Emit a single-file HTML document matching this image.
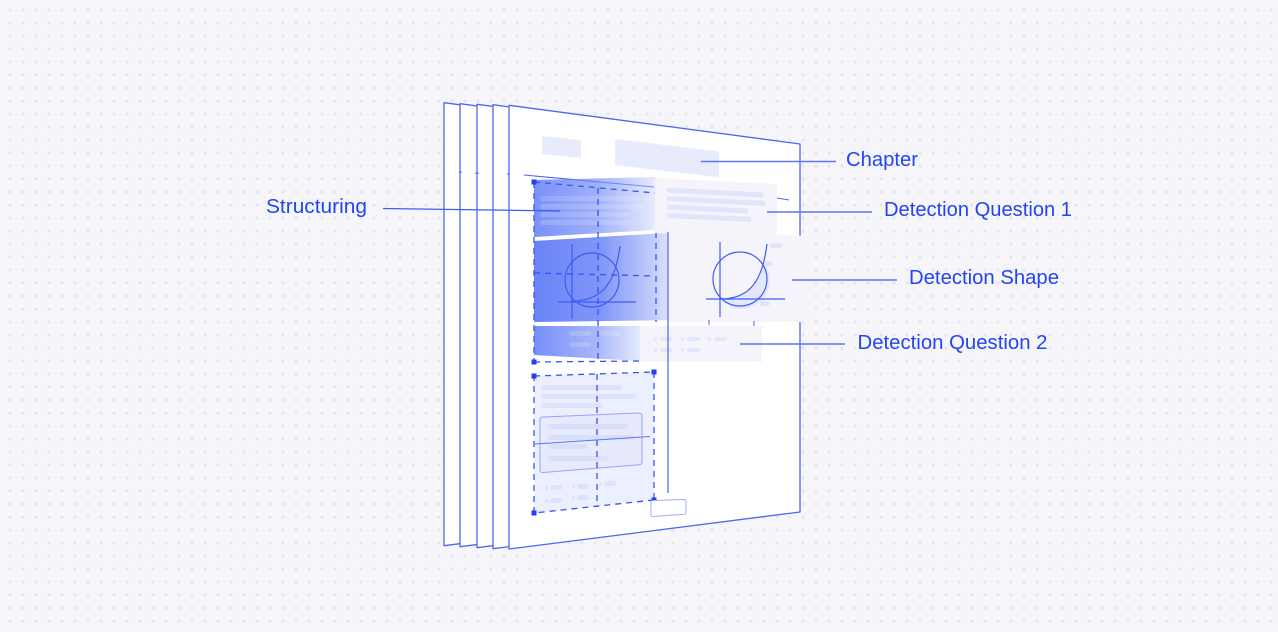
<!DOCTYPE html>
<html><head><meta charset="utf-8"><style>
html,body{margin:0;padding:0;background:#f6f6fa;}
svg{display:block;}
</style></head><body>
<svg width="1278" height="632" viewBox="0 0 1278 632" xmlns="http://www.w3.org/2000/svg">
<defs>
<pattern id="dots" x="0" y="0" width="13" height="13" patternUnits="userSpaceOnUse">
<circle cx="10" cy="10" r="1.6" fill="#e5e5ee"/>
</pattern>
<linearGradient id="gA" gradientUnits="userSpaceOnUse" x1="534" y1="0" x2="660" y2="0">
<stop offset="0" stop-color="#7a91f8"/><stop offset="0.5" stop-color="#9fb0fa"/><stop offset="1" stop-color="#eef1fe"/>
</linearGradient>
<linearGradient id="gB" gradientUnits="userSpaceOnUse" x1="534" y1="0" x2="682" y2="0">
<stop offset="0" stop-color="#6a84f7"/><stop offset="0.45" stop-color="#7f95f8"/><stop offset="0.8" stop-color="#c2ccfb"/><stop offset="1" stop-color="#f3f4fd"/>
</linearGradient>
<linearGradient id="gC" gradientUnits="userSpaceOnUse" x1="534" y1="0" x2="642" y2="0">
<stop offset="0" stop-color="#7690f8"/><stop offset="0.6" stop-color="#a9b8fa"/><stop offset="1" stop-color="#e8ecfd"/>
</linearGradient>
</defs>
<rect width="1278" height="632" fill="#f6f6fa"/>
<rect width="1278" height="632" fill="url(#dots)"/>

<!-- back pages -->
<g fill="#ffffff" stroke="#4c66f5" stroke-width="1.3" stroke-linejoin="round">
<polygon points="444,102.7 735,141.7 735,508.7 444,545.7"/>
<polygon points="460,103.7 751,142.7 751,509.7 460,546.7"/>
<polygon points="477,104.3 768,143.3 768,510.3 477,547.7"/>
<polygon points="493,104.7 784,143.7 784,511 493,548.7"/>
<polygon points="509,105.3 800,144 800,512 509,549"/>
</g>
<!-- ticks on back pages -->
<g stroke="#4c66f5" stroke-width="1">
<line x1="459" y1="172" x2="462" y2="172.3"/>
<line x1="475" y1="173" x2="479" y2="173.3"/>
<line x1="507" y1="174" x2="510" y2="174.2"/>
</g>

<!-- header rects -->
<polygon points="542,136 581,140 581,158 542,154" fill="#e8ebfc"/>
<polygon points="615,139 719,151.5 719,177.3 615,165" fill="#e8ebfc"/>

<!-- Chapter leader -->
<line x1="701" y1="161.5" x2="836" y2="161.5" stroke="#5c74f6" stroke-width="1.4"/>

<!-- header line -->
<line x1="524" y1="175" x2="654" y2="187" stroke="#4c66f5" stroke-width="1.1"/>
<line x1="777" y1="198" x2="789" y2="200" stroke="#4c66f5" stroke-width="1.1"/>

<!-- Structuring bands -->
<polygon points="534,180 656,177 656,230 534,237" fill="url(#gA)"/>
<polygon points="534,241 682,232 682,320 534,322" fill="url(#gB)"/>
<polygon points="534,326 641,326 641,361 534,355" fill="url(#gC)"/>
<!-- faint bars in bands -->
<g fill="#ffffff" opacity="0.16">
<rect x="540" y="196" width="100" height="5" rx="2.5"/>
<rect x="540" y="204" width="104" height="5" rx="2.5"/>
<rect x="540" y="212" width="90" height="5" rx="2.5"/>
<rect x="540" y="220" width="94" height="5" rx="2.5"/>
<rect x="569" y="331" width="22" height="5" rx="2.5"/>
<rect x="599" y="331" width="22" height="5" rx="2.5"/>
<rect x="569" y="342" width="22" height="5" rx="2.5"/>
</g>
<line x1="534" y1="176" x2="654" y2="187" stroke="#4c66f5" stroke-width="1" opacity="0.7"/>

<!-- circle in band B -->
<g stroke="#3f5cf4" stroke-width="1.2" fill="none">
<circle cx="592" cy="280" r="27"/>
<line x1="558" y1="302" x2="636" y2="302"/>
<line x1="572" y1="244" x2="572" y2="319"/>
<path d="M572,301 C600,301 615,286 620,246"/>
</g>

<!-- dashed structuring outline -->
<g stroke="#3655f4" stroke-width="1.3" stroke-dasharray="6 5" fill="none">
<line x1="534" y1="182" x2="534" y2="362"/>
<line x1="534" y1="182" x2="655" y2="193"/>
<line x1="598" y1="188" x2="598" y2="361"/>
<line x1="656" y1="232" x2="656" y2="322"/>
<line x1="534" y1="273" x2="655" y2="276"/>
<line x1="534" y1="362" x2="640" y2="361"/>
</g>
<g fill="#1f3ff5">
<rect x="531.5" y="179.5" width="5" height="5"/>
<rect x="531.5" y="359.5" width="5" height="5"/>
</g>

<!-- Q1 card -->
<polygon points="655,178 777,184 777,236 655,233" fill="#f4f4fa"/>
<g fill="#e0e5fc">
<polygon points="667,187.5 763,192.5 763,197.5 667,192.5"/>
<polygon points="667,196 765,201 765,206 667,201"/>
<polygon points="667,204.5 748,208.5 748,213.5 667,209.5"/>
<polygon points="667,213 751,217 751,222 667,218"/>
</g>
<line x1="767" y1="212" x2="872" y2="212" stroke="#5c74f6" stroke-width="1.4"/>

<!-- shape card -->
<polygon points="668,232 812,236 812,322 668,322" fill="#f4f4fa"/>
<path d="M720,299 C745,299 759,285 763,262 A28,28 0 0 1 720,299 Z" fill="#e4e8fc"/>
<g stroke="#3f5cf4" stroke-width="1.2" fill="none">
<circle cx="740" cy="279" r="27"/>
<line x1="706" y1="299" x2="785" y2="299"/>
<line x1="720" y1="242" x2="720" y2="317"/>
<path d="M720,299 C748,299 762,284 767,244"/>
</g>
<g fill="#e0e5fc">
<rect x="769" y="243" width="14" height="5" rx="2.5"/>
<rect x="764" y="261" width="9" height="5" rx="2.5"/>
<rect x="760" y="301" width="10" height="5" rx="2.5"/>
</g>
<line x1="792" y1="280" x2="897" y2="280" stroke="#5c74f6" stroke-width="1.4"/>

<!-- Q2 card -->
<rect x="640" y="326" width="122" height="36" fill="#f4f4fa"/>
<g fill="#e3e7fc">
<rect x="654" y="337" width="3" height="4" rx="1.5"/><rect x="660" y="337" width="12" height="4" rx="2"/>
<rect x="681" y="337" width="3" height="4" rx="1.5"/><rect x="687" y="337" width="13" height="4" rx="2"/>
<rect x="708" y="337" width="3" height="4" rx="1.5"/><rect x="714" y="337" width="13" height="4" rx="2"/>
<rect x="654" y="348" width="3" height="4" rx="1.5"/><rect x="660" y="348" width="12" height="4" rx="2"/>
<rect x="681" y="348" width="3" height="4" rx="1.5"/><rect x="687" y="348" width="13" height="4" rx="2"/>
</g>
<line x1="740" y1="344" x2="845" y2="344" stroke="#5c74f6" stroke-width="1.4"/>

<!-- vertical solid line -->
<line x1="668" y1="232" x2="668" y2="493" stroke="#4c66f5" stroke-width="1.2"/>
<line x1="709" y1="320" x2="709" y2="325" stroke="#4c66f5" stroke-width="1"/>
<line x1="754" y1="321" x2="754" y2="326" stroke="#4c66f5" stroke-width="1"/>

<!-- lower block -->
<polygon points="534,376 654,372 654,500 534,513" fill="#eceffd"/>
<g fill="#dde3fc">
<rect x="541" y="385" width="81" height="5" rx="2.5"/>
<rect x="541" y="394" width="95" height="5" rx="2.5"/>
<rect x="541" y="403" width="62" height="5" rx="2.5"/>
</g>
<path d="M543,417 L639,413 Q642,413 642,416 L642,462 Q642,464.5 639,464.8 L543,472.5 Q540,472.7 540,470 L540,420 Q540,417 543,417 Z" fill="#e7eafd" stroke="#94a5f8" stroke-width="1"/>
<g fill="#d9e0fc">
<rect x="548" y="424" width="80" height="5" rx="2.5"/>
<rect x="548" y="435" width="86" height="5" rx="2.5"/>
<rect x="548" y="444" width="40" height="5" rx="2.5"/>
<rect x="548" y="456" width="60" height="5" rx="2.5"/>
</g>
<line x1="535" y1="444" x2="650" y2="436.5" stroke="#5c74f6" stroke-width="1"/>
<g fill="#dde3fc">
<rect x="545" y="486" width="3" height="4" rx="1.5"/><rect x="550" y="485" width="12" height="5" rx="2.5"/>
<rect x="572" y="485" width="3" height="4" rx="1.5"/><rect x="577" y="484" width="12" height="5" rx="2.5"/>
<rect x="599" y="482" width="3" height="4" rx="1.5"/><rect x="604" y="481" width="12" height="5" rx="2.5"/>
<rect x="545" y="499" width="3" height="4" rx="1.5"/><rect x="550" y="498" width="12" height="5" rx="2.5"/>
<rect x="572" y="496" width="3" height="4" rx="1.5"/><rect x="577" y="495" width="12" height="5" rx="2.5"/>
</g>
<g stroke="#3655f4" stroke-width="1.3" stroke-dasharray="6 5" fill="none">
<line x1="534" y1="376" x2="654" y2="372"/>
<line x1="654" y1="372" x2="654" y2="500"/>
<line x1="654" y1="500" x2="534" y2="513"/>
<line x1="534" y1="513" x2="534" y2="376"/>
<line x1="597" y1="374" x2="597" y2="507"/>
</g>
<g fill="#1f3ff5">
<rect x="531.5" y="373.5" width="5" height="5"/>
<rect x="651.5" y="369.5" width="5" height="5"/>
<rect x="651.5" y="497.5" width="5" height="5"/>
<rect x="531.5" y="510.5" width="5" height="5"/>
</g>

<!-- button -->
<path d="M653,500.5 L684,499.5 Q686,499.5 686,501.5 L686,512.5 Q686,514 684,514.2 L653,516.5 Q651,516.7 651,514.5 L651,502.5 Q651,500.6 653,500.5 Z" fill="#ffffff" stroke="#9fb0f8" stroke-width="1"/>

<!-- Structuring leader -->
<line x1="383" y1="208.5" x2="560" y2="211" stroke="#3f5cf4" stroke-width="1.3"/>

<!-- labels -->
<g font-family="'Liberation Sans', sans-serif" font-size="20" fill="#2443f2">
<text x="846" y="166" textLength="72" lengthAdjust="spacingAndGlyphs">Chapter</text>
<text x="266" y="213" textLength="101" lengthAdjust="spacingAndGlyphs">Structuring</text>
<text x="884" y="216" textLength="188" lengthAdjust="spacingAndGlyphs">Detection Question 1</text>
<text x="909" y="284" textLength="150" lengthAdjust="spacingAndGlyphs">Detection Shape</text>
<text x="857.5" y="349" textLength="190" lengthAdjust="spacingAndGlyphs">Detection Question 2</text>
</g>
</svg>
</body></html>
